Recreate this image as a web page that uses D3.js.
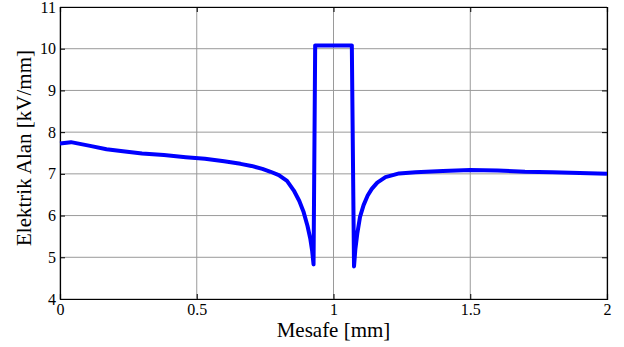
<!DOCTYPE html>
<html>
<head>
<meta charset="utf-8">
<script src="https://cdn.jsdelivr.net/npm/d3@7"></script>
<style>
  body { margin: 0; background: #fff; }
  svg text { font-family: "Liberation Serif", "Times New Roman", serif; fill: #000; }
  .tick text { font-family: "Liberation Serif", "Times New Roman", serif !important; font-size: 16px !important; }
</style>
</head>
<body>
<div class="chart"></div>
<script>
// distance along the gap [mm]
const mesafe = [0, 0.04, 0.11, 0.17, 0.23, 0.3, 0.38, 0.46, 0.53, 0.6, 0.66, 0.7, 0.74, 0.77,
  0.8, 0.83, 0.855, 0.875, 0.89, 0.905, 0.915, 0.922, 0.927, 0.933,
  1.067, 1.075, 1.08, 1.087, 1.097, 1.11, 1.125, 1.14, 1.16, 1.19, 1.24, 1.3, 1.4, 1.5, 1.6, 1.7, 1.8, 1.9, 2];
// electric field [kV/mm]
const alan = [7.73, 7.76, 7.67, 7.59, 7.54, 7.49, 7.45, 7.4, 7.36, 7.3, 7.24, 7.19, 7.12, 7.05,
  6.97, 6.83, 6.6, 6.35, 6.1, 5.75, 5.45, 5.15, 4.83, 10.08,
  10.08, 4.78, 5.2, 5.57, 5.97, 6.25, 6.48, 6.64, 6.79, 6.92, 7.01, 7.04, 7.07, 7.09, 7.08, 7.05, 7.04, 7.02, 7.0];

const xTicks = [0, 0.5, 1, 1.5, 2];
const yTicks = [4, 5, 6, 7, 8, 9, 10, 11];

const width = 624, height = 347;
const margin = { top: 7, right: 17, bottom: 48, left: 60 };
const serif = "'Liberation Serif', 'Times New Roman', serif";

const svg = d3.select(".chart").append("svg")
  .attr("width", width)
  .attr("height", height);

const x = d3.scaleLinear().domain([0, 2]).range([margin.left, width - margin.right]);
const y = d3.scaleLinear().domain([4, 11]).range([height - margin.bottom, margin.top]);

// grid
svg.append("g")
  .selectAll("line")
  .data(xTicks)
  .enter().append("line")
  .attr("x1", d => x(d)).attr("x2", d => x(d))
  .attr("y1", y(4)).attr("y2", y(11))
  .attr("stroke", "#9a9a9a").attr("stroke-width", 1);

svg.append("g")
  .selectAll("line")
  .data(yTicks)
  .enter().append("line")
  .attr("x1", x(0)).attr("x2", x(2))
  .attr("y1", d => y(d)).attr("y2", d => y(d))
  .attr("stroke", "#9a9a9a").attr("stroke-width", 1);

// axes with inward ticks
const xAxis = d3.axisBottom(x).tickValues(xTicks).tickSize(-5).tickPadding(5).tickFormat(d3.format(""));
const yAxis = d3.axisLeft(y).tickValues(yTicks).tickSize(-5).tickPadding(4).tickFormat(d3.format("d"));

svg.append("g")
  .attr("transform", `translate(0, ${y(4)})`)
  .call(xAxis)
  .attr("font-family", serif)
  .attr("font-size", 16);
svg.append("g")
  .attr("transform", `translate(${x(0)}, 0)`)
  .call(yAxis)
  .attr("font-family", serif)
  .attr("font-size", 16);
svg.append("g")
  .attr("transform", `translate(0, ${y(11)})`)
  .call(d3.axisTop(x).tickValues(xTicks).tickSize(-5).tickFormat(""));
svg.append("g")
  .attr("transform", `translate(${x(2)}, 0)`)
  .call(d3.axisRight(y).tickValues(yTicks).tickSize(-5).tickFormat(""));

svg.selectAll(".domain").attr("stroke", "#000").attr("stroke-width", 1.2);
svg.selectAll(".tick line").attr("stroke", "#000");

// curve
const line = d3.line()
  .x((d, i) => x(mesafe[i]))
  .y(d => y(d));

svg.append("path")
  .datum(alan)
  .attr("d", line)
  .attr("fill", "none")
  .attr("stroke", "#0000ff")
  .attr("stroke-width", 4)
  .attr("stroke-linejoin", "round");

// labels
svg.append("text")
  .attr("x", x(1))
  .attr("y", 337)
  .attr("text-anchor", "middle")
  .style("font-size", "21px")
  .text("Mesafe [mm]");

svg.append("text")
  .attr("transform", `translate(31, ${(y(4) + y(11)) / 2 - 5}) rotate(-90)`)
  .attr("text-anchor", "middle")
  .style("font-size", "21px")
  .text("Elektrik Alan [kV/mm]");
</script>
</body>
</html>
